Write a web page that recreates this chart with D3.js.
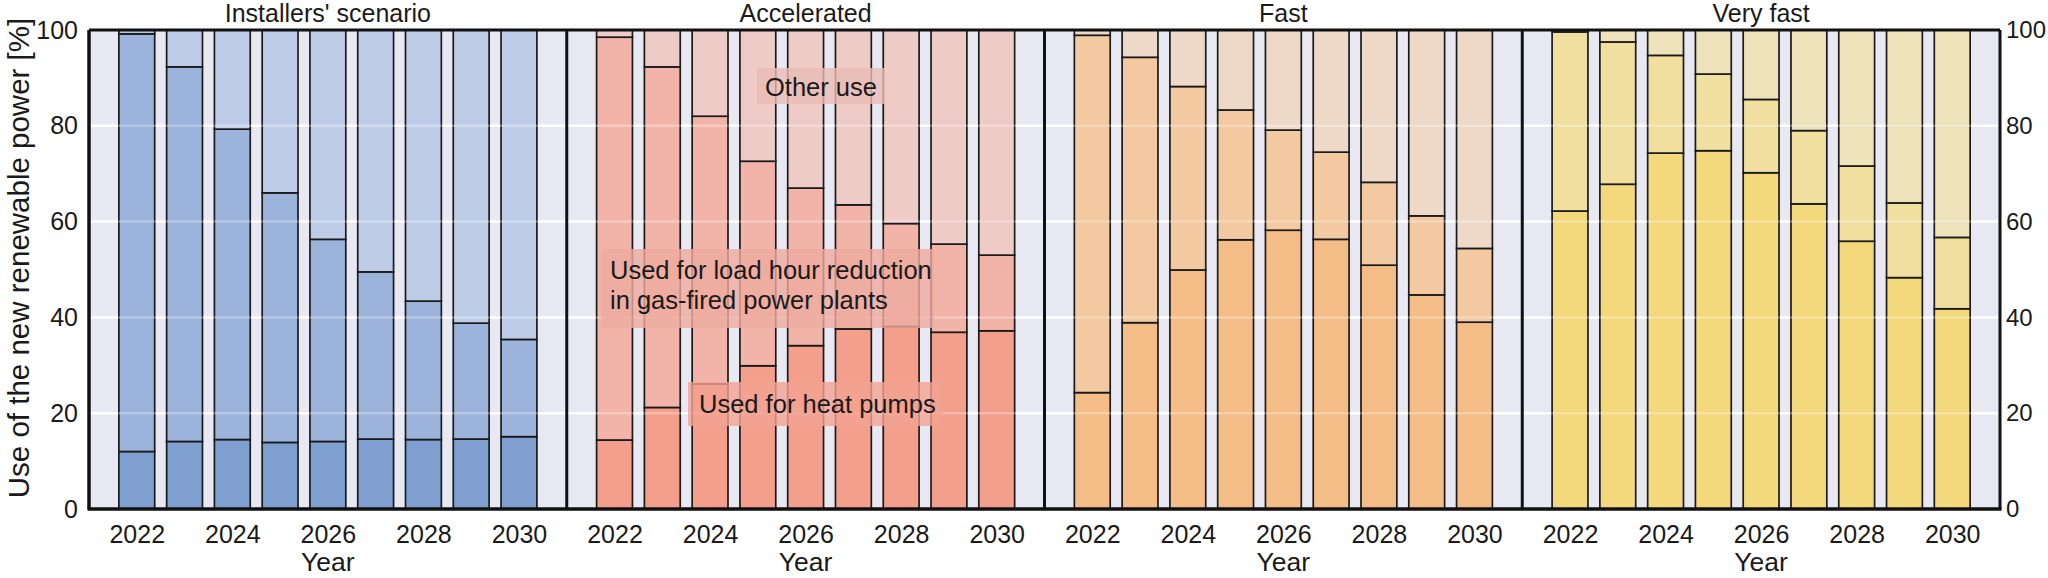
<!DOCTYPE html>
<html>
<head>
<meta charset="utf-8">
<script src="https://cdn.jsdelivr.net/npm/d3@7"></script>
<style>
  html, body { margin: 0; padding: 0; background: #ffffff; }
  svg { display: block; }
  text { font-family: "Liberation Sans", Arial, Helvetica, sans-serif; fill: #1a1a1a; }
</style>
</head>
<body>
<svg id="chart" width="2048" height="578"></svg>
<script>
// ---------------- DATA ----------------
const years = [2022, 2023, 2024, 2025, 2026, 2027, 2028, 2029, 2030];
const scenarios = ["Installers' scenario", "Accelerated", "Fast", "Very fast"];
const yTicks = [0, 20, 40, 60, 80, 100];
const xTicks = [2022, 2024, 2026, 2028, 2030];

// share used for heat pumps [%]
const heatInstallers   = [12.0, 14.1, 14.5, 13.9, 14.1, 14.6, 14.5, 14.6, 15.1];
const heatAccelerated  = [14.4, 21.2, 26.1, 29.9, 34.1, 37.6, 38.1, 36.9, 37.2];
const heatFast         = [24.3, 38.9, 49.9, 56.2, 58.2, 56.3, 50.9, 44.7, 39.0];
const heatVeryFast     = [62.2, 67.8, 74.3, 74.8, 70.2, 63.7, 55.9, 48.3, 41.8];

// share used for load hour reduction in gas-fired power plants [%]
const loadInstallers   = [87.2, 78.2, 64.8, 52.1, 42.2, 34.9, 28.9, 24.2, 20.3];
const loadAccelerated  = [84.1, 71.1, 55.9, 42.7, 32.9, 25.9, 21.5, 18.4, 15.8];
const loadFast         = [74.6, 55.4, 38.3, 27.1, 20.9, 18.2, 17.3, 16.5, 15.4];
const loadVeryFast     = [37.4, 29.7, 20.4, 16.0, 15.3, 15.3, 15.7, 15.6, 14.9];

const heatSeries = [heatInstallers, heatAccelerated, heatFast, heatVeryFast];
const loadSeries = [loadInstallers, loadAccelerated, loadFast, loadVeryFast];

// colours: [heat pumps, load hour reduction, other use]
const palettes = [
  ["#7f9fd1", "#9cb3db", "#bfcce8"],
  ["#f49e8c", "#f2b3a8", "#efcbc7"],
  ["#f4bc86", "#f2c9a0", "#eed8c8"],
  ["#f3d97c", "#f0df9e", "#eee2ba"]
];
const keys = ["heat", "load", "other"];

// ---------------- LAYOUT ----------------
const svg = d3.select("#chart");
const plotLeft = 89, plotRight = 2000, plotTop = 30, plotBottom = 509;
const panelW = (plotRight - plotLeft) / scenarios.length;

const y = d3.scaleLinear().domain([0, 100]).range([plotBottom, plotTop]);

// background
svg.append("rect")
  .attr("x", plotLeft).attr("y", plotTop)
  .attr("width", plotRight - plotLeft).attr("height", plotBottom - plotTop)
  .attr("fill", "#e8e8f2");

// gridlines (under bars)
const grid = svg.append("g");
grid.selectAll("line").data(yTicks.filter(t => t > 0 && t < 100)).join("line")
  .attr("x1", plotLeft).attr("x2", plotRight)
  .attr("y1", d => y(d)).attr("y2", d => y(d))
  .attr("stroke", "#ffffff").attr("stroke-width", 2.5);

const stack = d3.stack().keys(keys);

scenarios.forEach((name, i) => {
  const x0 = plotLeft + i * panelW, x1 = x0 + panelW;
  const x = d3.scaleLinear().domain([2021, 2031]).range([x0, x1]);
  const step = x(2022) - x(2021);
  const bw = step * 0.75;

  const rows = years.map((yr, j) => ({
    year: yr,
    heat: heatSeries[i][j],
    load: loadSeries[i][j],
    other: 100 - heatSeries[i][j] - loadSeries[i][j]
  }));
  const layers = stack(rows);

  const g = svg.append("g");
  layers.forEach((layer, k) => {
    g.append("g").selectAll("rect").data(layer).join("rect")
      .attr("x", d => x(d.data.year) - bw / 2)
      .attr("width", bw)
      .attr("y", d => y(d[1]))
      .attr("height", d => y(d[0]) - y(d[1]))
      .attr("fill", palettes[i][k])
      .attr("stroke", "#1a1a1a")
      .attr("stroke-width", 1.7);
  });

  // faint gridline shine over bars
  g.append("g").selectAll("line").data(yTicks.filter(t => t > 0 && t < 100)).join("line")
    .attr("x1", x0).attr("x2", x1)
    .attr("y1", d => y(d)).attr("y2", d => y(d))
    .attr("stroke", "#ffffff").attr("stroke-opacity", 0.28).attr("stroke-width", 2.5);

  // bottom axis
  const ax = svg.append("g")
    .attr("transform", `translate(0,${plotBottom})`)
    .call(d3.axisBottom(x).tickValues(xTicks).tickFormat(d3.format("d")).tickSize(0).tickPadding(16));
  ax.select(".domain").remove();
  ax.selectAll("text").attr("font-size", 25).attr("fill", "#1a1a1a")
    .attr("font-family", "Liberation Sans, Arial, sans-serif");

  // axis title
  svg.append("text")
    .attr("x", (x0 + x1) / 2).attr("y", 571)
    .attr("text-anchor", "middle").attr("font-size", 26.5)
    .text("Year");

  // panel title
  svg.append("text")
    .attr("x", (x0 + x1) / 2).attr("y", 22)
    .attr("text-anchor", "middle").attr("font-size", 25)
    .text(name);

  // panel separator
  if (i > 0) {
    svg.append("line")
      .attr("x1", x0).attr("x2", x0).attr("y1", plotTop).attr("y2", plotBottom)
      .attr("stroke", "#111").attr("stroke-width", 3);
  }
});

// frame lines
svg.append("line").attr("x1", plotLeft).attr("x2", plotRight).attr("y1", plotTop).attr("y2", plotTop)
  .attr("stroke", "#111").attr("stroke-width", 3);
svg.append("line").attr("x1", plotLeft - 1.5).attr("x2", plotRight + 1.5).attr("y1", plotBottom).attr("y2", plotBottom)
  .attr("stroke", "#111").attr("stroke-width", 3.5);
svg.append("line").attr("x1", plotLeft).attr("x2", plotLeft).attr("y1", plotTop).attr("y2", plotBottom)
  .attr("stroke", "#111").attr("stroke-width", 3.5);
svg.append("line").attr("x1", plotRight).attr("x2", plotRight).attr("y1", plotTop).attr("y2", plotBottom)
  .attr("stroke", "#111").attr("stroke-width", 3);

// y axes
const yl = svg.append("g").attr("transform", `translate(${plotLeft},0)`)
  .call(d3.axisLeft(y).tickValues(yTicks).tickSize(0).tickPadding(11));
yl.select(".domain").remove();
yl.selectAll("text").attr("font-size", 25).attr("fill", "#1a1a1a")
  .attr("font-family", "Liberation Sans, Arial, sans-serif");

const yr = svg.append("g").attr("transform", `translate(${plotRight},0)`)
  .call(d3.axisRight(y).tickValues(yTicks).tickSize(0).tickPadding(6));
yr.select(".domain").remove();
yr.selectAll("text").attr("font-size", 24).attr("fill", "#1a1a1a")
  .attr("font-family", "Liberation Sans, Arial, sans-serif");

svg.append("text")
  .attr("transform", `translate(29,258) rotate(-90)`)
  .attr("text-anchor", "middle").attr("font-size", 29.5)
  .text("Use of the new renewable power [%]");

// annotations (Accelerated panel)
const notes = [
  { lines: ["Other use"], box: [757, 68, 128, 36], fill: "#eabcb5", tx: 765, ty: [96] },
  { lines: ["Used for load hour reduction", "in gas-fired power plants"], box: [601, 249, 333, 79], fill: "#eeaa9f", tx: 610, ty: [279, 309] },
  { lines: ["Used for heat pumps"], box: [688, 382, 255, 44], fill: "#f2a293", tx: 699, ty: [413] }
];
notes.forEach(n => {
  svg.append("rect")
    .attr("x", n.box[0]).attr("y", n.box[1]).attr("width", n.box[2]).attr("height", n.box[3])
    .attr("fill", n.fill).attr("fill-opacity", 0.8);
  n.lines.forEach((t, k) => {
    svg.append("text").attr("x", n.tx).attr("y", n.ty[k]).attr("font-size", 25.5).text(t);
  });
});
</script>
</body>
</html>
